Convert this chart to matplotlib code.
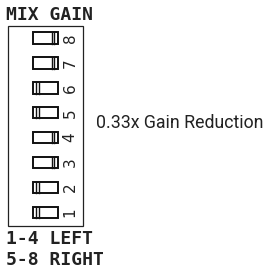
import matplotlib.pyplot as plt
from matplotlib.patches import Rectangle

# switch numbers, bottom to top, and where the slider sits
switch_ids = [1, 2, 3, 4, 5, 6, 7, 8]
slider_side = ['left', 'left', 'right', 'right', 'left', 'left', 'right', 'right']
title = 'MIX GAIN'
note = '0.33x Gain Reduction'
legend_lines = ['1-4 LEFT', '5-8 RIGHT']

fig = plt.figure(figsize=(2.72, 2.70), dpi=100)
ax = fig.add_axes([0, 0, 1, 1])
ax.set_xlim(0, 272)
ax.set_ylim(270, 0)
ax.axis('off')

lw = 1.4
# outer box
ax.add_patch(Rectangle((7.5, 25.5), 75, 200.5, fill=False, lw=0.9, ec='#222222'))

top_y = 38
step = 24.9
for i, (sid, side) in enumerate(zip(switch_ids[::-1], slider_side[::-1])):
    yc = top_y + i * step
    x0, w, h = 32.5, 25.5, 11.5
    ax.add_patch(Rectangle((x0, yc - h / 2), w, h, fill=False, lw=lw, ec='#111111'))
    if side == 'right':
        xs = [x0 + w - 6.5, x0 + w - 3.7]
    else:
        xs = [x0 + 3.0, x0 + 6.0]
    for xl in xs:
        ax.plot([xl, xl], [yc - h / 2, yc + h / 2], color='#111111', lw=1.0)
    ax.text(70, yc, str(sid), rotation=90, ha='center', va='center',
            fontsize=11, family='DejaVu Sans', color='#222222')

bold_kw = dict(ha='left', va='center', fontsize=13, family='DejaVu Sans Mono',
               weight='bold', color='#222222')
ax.text(6, 15, title, **bold_kw)
ax.text(96, 123, note, ha='left', va='center', fontsize=12.8,
        family='Roboto', color='#222222')
ax.text(6, 239, legend_lines[0], **bold_kw)
ax.text(6, 260, legend_lines[1], **bold_kw)

fig.savefig('out.png', dpi=100)
